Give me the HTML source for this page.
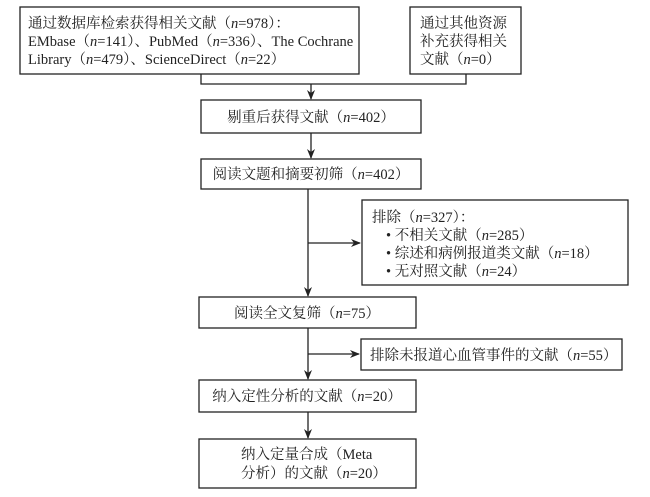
<!DOCTYPE html>
<html><head><meta charset="utf-8"><style>
html,body{margin:0;padding:0;background:#fff;}
svg text{font-family:"Liberation Serif","Noto Serif CJK SC",serif;font-size:14.5px;fill:#222;}
</style></head><body>
<svg width="650" height="492" viewBox="0 0 650 492" xmlns="http://www.w3.org/2000/svg">
<defs><marker id="a" markerWidth="10" markerHeight="8" refX="9" refY="4" orient="auto" markerUnits="userSpaceOnUse"><path d="M0,0 L10,4 L0,8 L3,4 Z" fill="#222"/></marker></defs>
<g fill="none" stroke="#222" stroke-width="1.3">
<rect x="20" y="7" width="339" height="67"/>
<rect x="410" y="7" width="111" height="67"/>
<rect x="201" y="100" width="220" height="33"/>
<rect x="201" y="159" width="220" height="30"/>
<rect x="362" y="200" width="266" height="85"/>
<rect x="199" y="297" width="217" height="31"/>
<rect x="361" y="339" width="261" height="31"/>
<rect x="199" y="380" width="217" height="32"/>
<rect x="199" y="439" width="217" height="49"/>
<path d="M201,74 V84 H466 V74"/>
<path d="M311,84 V99" marker-end="url(#a)"/>
<path d="M311,133 V158" marker-end="url(#a)"/>
<path d="M308,189 V296" marker-end="url(#a)"/>
<path d="M308,243 H360" marker-end="url(#a)"/>
<path d="M308,328 V379" marker-end="url(#a)"/>
<path d="M308,354 H359" marker-end="url(#a)"/>
<path d="M308,412 V438" marker-end="url(#a)"/>
</g>
<text x="28" y="28">通过数据库检索获得相关文献（<tspan font-style="italic">n</tspan>=978）：</text>
<text x="28" y="46">EMbase（<tspan font-style="italic">n</tspan>=141）、PubMed（<tspan font-style="italic">n</tspan>=336）、The Cochrane</text>
<text x="28" y="64">Library（<tspan font-style="italic">n</tspan>=479）、ScienceDirect（<tspan font-style="italic">n</tspan>=22）</text>
<text x="420" y="28">通过其他资源</text>
<text x="420" y="46">补充获得相关</text>
<text x="420" y="64">文献（<tspan font-style="italic">n</tspan>=0）</text>
<text x="311" y="122" text-anchor="middle">剔重后获得文献（<tspan font-style="italic">n</tspan>=402）</text>
<text x="311" y="179" text-anchor="middle">阅读文题和摘要初筛（<tspan font-style="italic">n</tspan>=402）</text>
<text x="372" y="222">排除（<tspan font-style="italic">n</tspan>=327）：</text>
<text x="386" y="240">•  不相关文献（<tspan font-style="italic">n</tspan>=285）</text>
<text x="386" y="258">•  综述和病例报道类文献（<tspan font-style="italic">n</tspan>=18）</text>
<text x="386" y="276">•  无对照文献（<tspan font-style="italic">n</tspan>=24）</text>
<text x="307" y="318" text-anchor="middle">阅读全文复筛（<tspan font-style="italic">n</tspan>=75）</text>
<text x="370" y="360">排除未报道心血管事件的文献（<tspan font-style="italic">n</tspan>=55）</text>
<text x="307" y="401" text-anchor="middle">纳入定性分析的文献（<tspan font-style="italic">n</tspan>=20）</text>
<text x="241" y="459">纳入定量合成（Meta</text>
<text x="241" y="478">分析）的文献（<tspan font-style="italic">n</tspan>=20）</text>
</svg>
</body></html>
